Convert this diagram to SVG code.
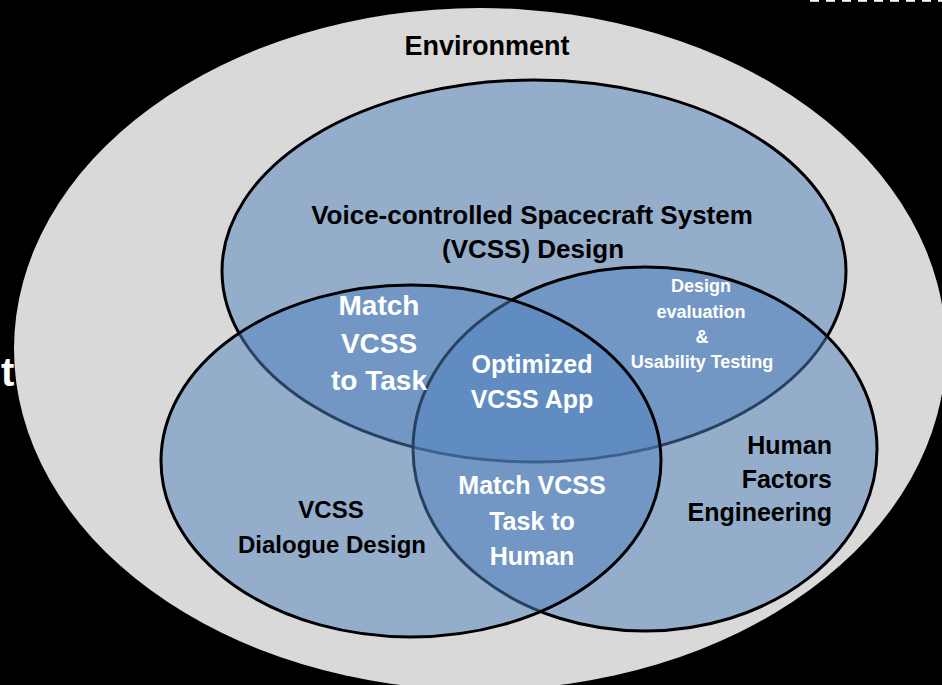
<svg xmlns="http://www.w3.org/2000/svg" width="942" height="685" viewBox="0 0 942 685">
  <style>
    .lbl { font-family: "Liberation Sans", Arial, sans-serif; font-weight: bold; text-anchor: middle; }
    .dark { fill: #000000; }
    .light { fill: #ffffff; }
    .set { fill: #4f81bd; fill-opacity: 0.5; stroke: #000000; stroke-width: 3; }
  </style>
  <rect x="0" y="0" width="942" height="685" fill="#000000"/>
  <text x="1" y="386" class="lbl light" style="text-anchor:start" font-size="40">t</text>
  <line x1="810" y1="0.8" x2="942" y2="0.8" stroke="#ffffff" stroke-width="2" stroke-dasharray="9 7"/>

  <g id="environment">
    <ellipse cx="480" cy="349" rx="466" ry="341" fill="#d9d9d9"/>
    <text x="487" y="55" class="lbl dark" font-size="27">Environment</text>
  </g>

  <g id="vcss-design">
    <ellipse class="set" cx="534" cy="271" rx="312" ry="191"/>
    <text class="lbl dark" font-size="26"><tspan x="532" y="224">Voice-controlled Spacecraft System</tspan><tspan x="533" y="258">(VCSS) Design</tspan></text>
  </g>

  <g id="human-factors">
    <ellipse class="set" cx="645" cy="449" rx="232" ry="182"/>
    <text class="lbl dark" font-size="25" style="text-anchor:end"><tspan x="832" y="454">Human</tspan><tspan x="832" y="488">Factors</tspan><tspan x="832" y="521">Engineering</tspan></text>
  </g>

  <g id="dialogue-design">
    <ellipse class="set" cx="411" cy="461" rx="250" ry="176"/>
    <text class="lbl dark" font-size="24"><tspan x="331" y="518">VCSS</tspan><tspan x="332" y="553">Dialogue Design</tspan></text>
  </g>

  <g id="match-vcss-task">
    <text class="lbl light" font-size="28"><tspan x="379" y="315">Match</tspan><tspan x="379" y="353">VCSS</tspan><tspan x="379" y="390">to Task</tspan></text>
  </g>

  <g id="design-evaluation">
    <text class="lbl light" font-size="18"><tspan x="701" y="292">Design</tspan><tspan x="701" y="318">evaluation</tspan><tspan x="702" y="343">&amp;</tspan><tspan x="702" y="368">Usability Testing</tspan></text>
  </g>

  <g id="optimized-app">
    <text class="lbl light" font-size="25"><tspan x="532" y="373">Optimized</tspan><tspan x="532" y="408">VCSS App</tspan></text>
  </g>

  <g id="match-task-human">
    <text class="lbl light" font-size="25"><tspan x="532" y="494">Match VCSS</tspan><tspan x="532" y="530">Task to</tspan><tspan x="532" y="565">Human</tspan></text>
  </g>

  <g id="connectors"/>
</svg>
